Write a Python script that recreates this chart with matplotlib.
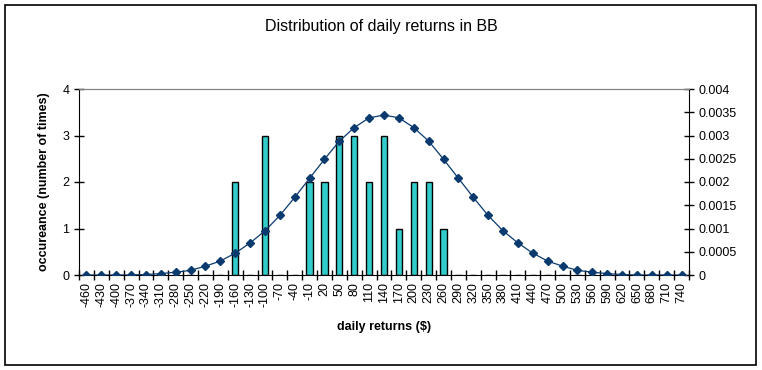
import matplotlib
matplotlib.use("Agg")
import matplotlib.pyplot as plt
from matplotlib.patches import Rectangle

plt.rcParams["font.family"] = ["Liberation Sans", "DejaVu Sans"]

# daily return buckets ($)
returns = list(range(-460, 741, 30))

# observed counts per bucket
counts = {-160: 2, -100: 3, -10: 2, 20: 2, 50: 3, 80: 3, 110: 2,
          140: 3, 170: 1, 200: 2, 230: 2, 260: 1}

# normal density (secondary axis)
density = [0.0, 0.0, 0.0, 0.0, 0.00001, 0.00003, 0.00006, 0.0001, 0.00019,
           0.0003, 0.00047, 0.00069, 0.00095, 0.00128, 0.00167, 0.00208,
           0.00249, 0.00288, 0.00317, 0.00338, 0.00344, 0.00338, 0.00317,
           0.00288, 0.00249, 0.00208, 0.00167, 0.00128, 0.00095, 0.00069,
           0.00047, 0.0003, 0.00019, 0.0001, 0.00006, 0.00003, 0.00001,
           0.0, 0.0, 0.0, 0.0]

bar_values = [counts.get(r, 0) for r in returns]
x = list(range(len(returns)))

fig = plt.figure(figsize=(7.62, 3.70), dpi=100)
fig.patch.set_facecolor("white")

# outer chart border
fig.patches.append(Rectangle((5 / 762, 5 / 370), 751 / 762, 360 / 370,
                             transform=fig.transFigure, fill=False,
                             edgecolor="black", linewidth=1.2))

ax = fig.add_axes([79 / 762, (370 - 275) / 370, 610 / 762, 186 / 370])
ax.bar(x, bar_values, width=0.42, color="#33CCCC", edgecolor="black", linewidth=1, zorder=2)
ax.set_xlim(-0.5, len(returns) - 0.5)
ax.set_ylim(0, 4)
ax.set_yticks([0, 1, 2, 3, 4])
ax.set_xticks([i + 0.5 for i in range(-1, len(returns))], minor=False)
ax.set_xticklabels([])
ax.set_xticks(x, minor=True)
ax.set_xticklabels([str(r) for r in returns], minor=True, rotation=90, fontsize=9)
ax.tick_params(axis="x", which="minor", length=0, pad=5)
ax.tick_params(axis="x", which="major", direction="inout", length=7, width=1)
ax.tick_params(axis="y", direction="inout", length=7, width=1, labelsize=9)
ax.spines["top"].set_color("#808080")
ax.spines["right"].set_visible(False)
ax.set_xlabel("daily returns ($)", fontsize=9, fontweight="bold", labelpad=10)
ax.set_ylabel("occureance (number of times)", fontsize=9, fontweight="bold", labelpad=9)

ax2 = ax.twinx()
ax2.plot(x, density, color="#0A3A6E", linewidth=0.9, marker="D", markersize=4.5,
         markerfacecolor="#0A3A6E", markeredgecolor="#0A3A6E", zorder=3)
ax2.set_ylim(0, 0.004)
ax2.set_yticks([0, 0.0005, 0.001, 0.0015, 0.002, 0.0025, 0.003, 0.0035, 0.004])
ax2.set_yticklabels(["0", "0.0005", "0.001", "0.0015", "0.002", "0.0025",
                     "0.003", "0.0035", "0.004"])
ax2.tick_params(axis="y", direction="inout", length=7, width=1, labelsize=9)
ax2.spines["top"].set_color("#808080")
ax2.spines["left"].set_visible(False)
ax2.spines["bottom"].set_visible(False)

fig.text(381 / 762, 1 - 27 / 370, "Distribution of daily returns in BB",
         ha="center", va="center", fontsize=11.5)

plt.savefig("out.png", dpi=100)
plt.close()
